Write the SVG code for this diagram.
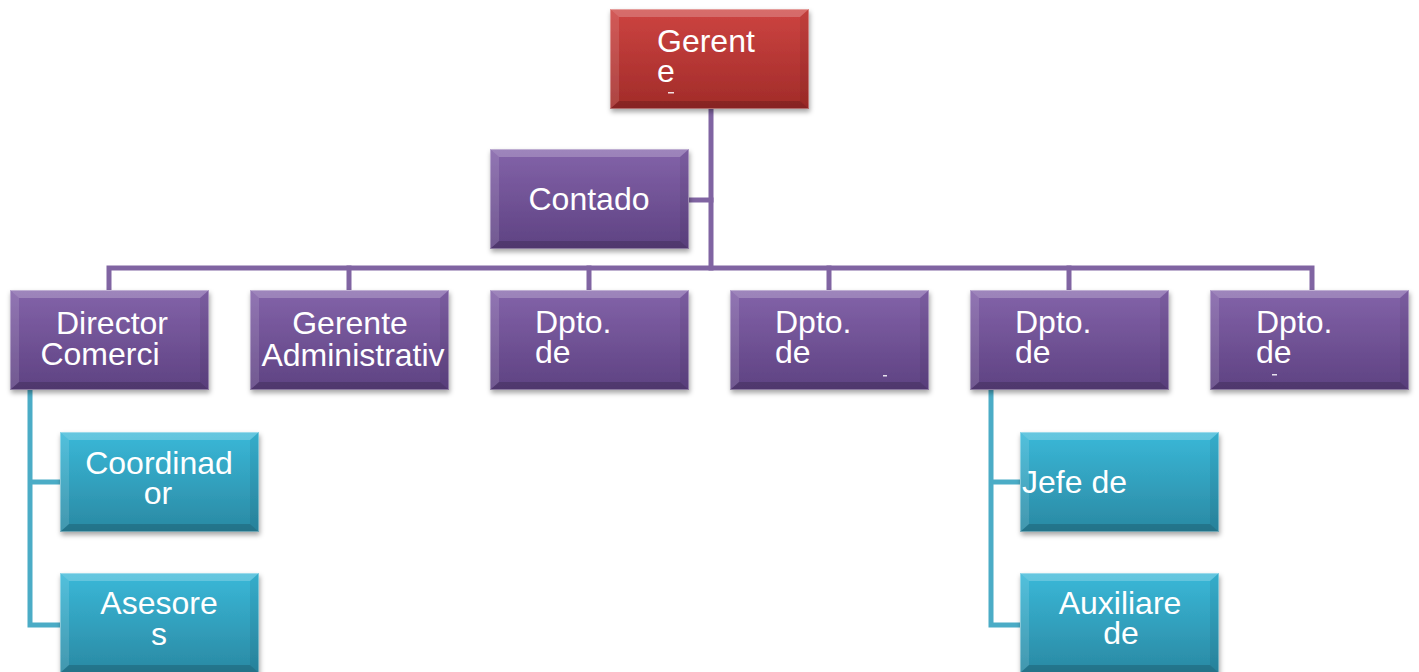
<svg xmlns="http://www.w3.org/2000/svg" xmlns:xlink="http://www.w3.org/1999/xlink" width="1419" height="672" viewBox="0 0 1419 672">
  <style>
    .lbl { font-family: "Liberation Sans", Arial, sans-serif; font-size: 32px; fill: #ffffff; }
    .mid { text-anchor: middle; }
    .conn-p { fill: none; stroke: #8064A2; stroke-width: 5; stroke-linejoin: miter; stroke-linecap: square; }
    .conn-c { fill: none; stroke: #4BACC6; stroke-width: 5; stroke-linejoin: miter; stroke-linecap: square; }
    .bev-top { fill: #ffffff; opacity: 0.22; }
    .bev-left { fill: #ffffff; opacity: 0.12; }
    .bev-right { fill: #000000; opacity: 0.06; }
    .bev-bot { fill: #000000; opacity: 0.16; }
    .edge { fill: none; stroke: #ffffff; stroke-opacity: 0.35; stroke-width: 1; }
    .crumb { fill: #ffffff; opacity: 0.85; }
  </style>
  <defs>
    <linearGradient id="gRed" x1="0" y1="0" x2="0" y2="1">
      <stop offset="0" stop-color="#CD4441"/>
      <stop offset="1" stop-color="#A12B29"/>
    </linearGradient>
    <linearGradient id="gPurple" x1="0" y1="0" x2="0" y2="1">
      <stop offset="0" stop-color="#8363A9"/>
      <stop offset="1" stop-color="#5E4282"/>
    </linearGradient>
    <linearGradient id="gCyan" x1="0" y1="0" x2="0" y2="1">
      <stop offset="0" stop-color="#3AB8D8"/>
      <stop offset="1" stop-color="#2A89A3"/>
    </linearGradient>
    <filter id="shadow" x="-10%" y="-10%" width="125%" height="130%">
      <feDropShadow dx="1" dy="3" stdDeviation="2.5" flood-color="#000000" flood-opacity="0.35"/>
    </filter>
    <!-- bevel overlay for a 199x100 box -->
    <g id="bevel">
      <polygon class="bev-top" points="0,0 199,0 190,8 9,8"/>
      <polygon class="bev-left" points="0,0 9,8 9,92 0,100"/>
      <polygon class="bev-right" points="199,0 199,100 190,92 190,8"/>
      <polygon class="bev-bot" points="0,100 9,92 190,92 199,100"/>
      <rect class="edge" x="0.5" y="0.5" width="198" height="99"/>
    </g>
    <g id="boxRed">
      <rect width="199" height="100" fill="url(#gRed)" filter="url(#shadow)"/>
      <use href="#bevel"/>
    </g>
    <g id="boxPurple">
      <rect width="199" height="100" fill="url(#gPurple)" filter="url(#shadow)"/>
      <use href="#bevel"/>
    </g>
    <g id="boxCyan">
      <rect width="199" height="100" fill="url(#gCyan)" filter="url(#shadow)"/>
      <use href="#bevel"/>
    </g>
  </defs>

  <rect width="1419" height="672" fill="#ffffff"/>

  <!-- connectors -->
  <g id="connectors">
    <path class="conn-p" d="M711 108 V268"/>
    <path class="conn-p" d="M690 200 H711"/>
    <path class="conn-p" d="M109 290 V268 H1312 V290"/>
    <path class="conn-p" d="M349 268 V290 M589 268 V290 M829 268 V290 M1069 268 V290"/>
    <path class="conn-c" d="M30 390 V625 H60 M30 482 H60"/>
    <path class="conn-c" d="M991 390 V625 H1020 M991 482 H1020"/>
  </g>

  <!-- top -->
  <g id="gerente">
    <use href="#boxRed" x="610" y="9"/>
    <text class="lbl" x="657" y="52">Gerent<tspan x="657" dy="30">e</tspan></text>
    <rect class="crumb" x="668" y="92" width="6" height="1.5"/>
  </g>

  <g id="contador">
    <use href="#boxPurple" x="490" y="149"/>
    <text class="lbl mid" x="589" y="210">Contado</text>
  </g>

  <!-- second level -->
  <g id="director-comercial">
    <use href="#boxPurple" x="10" y="290"/>
    <text class="lbl mid" x="112" y="334">Director<tspan x="100" dy="31">Comerci</tspan></text>
  </g>

  <g id="gerente-administrativo">
    <use href="#boxPurple" x="250" y="290"/>
    <text class="lbl mid" x="350" y="334">Gerente<tspan x="353" dy="32">Administrativ</tspan></text>
  </g>

  <g id="dpto-1">
    <use href="#boxPurple" x="490" y="290"/>
    <text class="lbl" x="535" y="333">Dpto.<tspan x="535" dy="30">de</tspan></text>
  </g>

  <g id="dpto-2">
    <use href="#boxPurple" x="730" y="290"/>
    <text class="lbl" x="775" y="333">Dpto.<tspan x="775" dy="30">de</tspan></text>
    <rect class="crumb" x="883" y="375" width="4" height="1.5"/>
  </g>

  <g id="dpto-3">
    <use href="#boxPurple" x="970" y="290"/>
    <text class="lbl" x="1015" y="333">Dpto.<tspan x="1015" dy="30">de</tspan></text>
  </g>

  <g id="dpto-4">
    <use href="#boxPurple" x="1210" y="290"/>
    <text class="lbl" x="1256" y="333">Dpto.<tspan x="1256" dy="30">de</tspan></text>
    <rect class="crumb" x="1272" y="374" width="5" height="1.5"/>
  </g>

  <!-- third level -->
  <g id="coordinador">
    <use href="#boxCyan" x="60" y="432"/>
    <text class="lbl mid" x="159" y="474">Coordinad<tspan x="158" dy="30">or</tspan></text>
  </g>

  <g id="asesores">
    <use href="#boxCyan" x="60" y="573"/>
    <text class="lbl mid" x="159" y="614">Asesore<tspan x="159" dy="31">s</tspan></text>
  </g>

  <g id="jefe">
    <use href="#boxCyan" x="1020" y="432"/>
    <text class="lbl" x="1022" y="493">Jefe de</text>
  </g>

  <g id="auxiliares">
    <use href="#boxCyan" x="1020" y="573"/>
    <text class="lbl mid" x="1120" y="614">Auxiliare<tspan x="1121" dy="30">de</tspan></text>
  </g>
</svg>
